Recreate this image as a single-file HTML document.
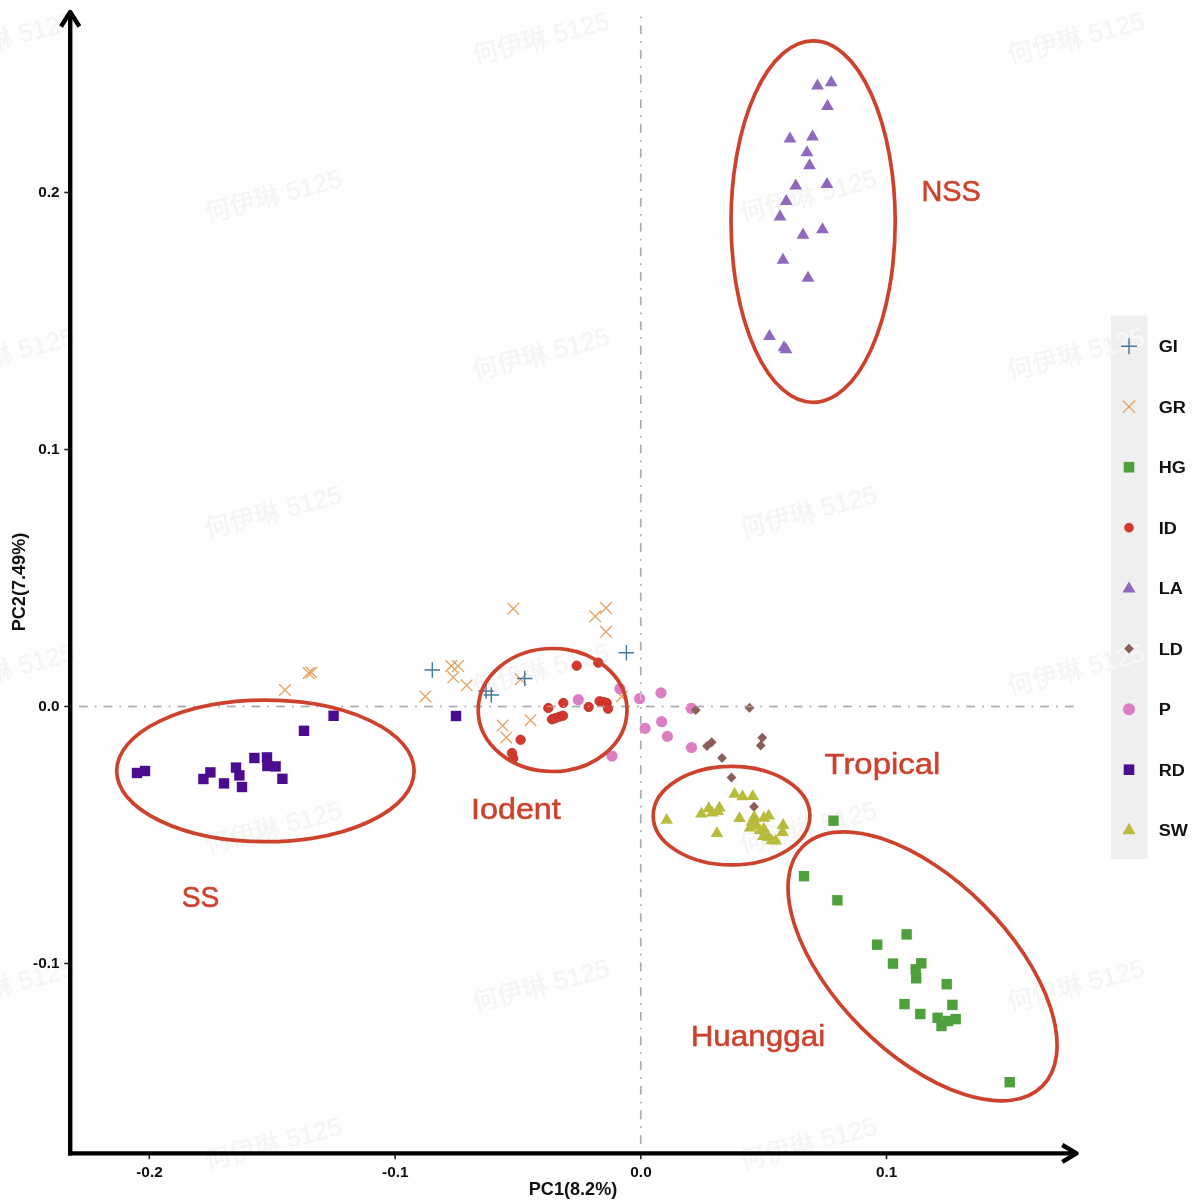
<!DOCTYPE html>
<html lang="zh"><head><meta charset="utf-8"><title>PCA plot</title>
<style>
html,body{margin:0;padding:0;background:#fefefe;}
body{width:1200px;height:1200px;overflow:hidden;font-family:"Liberation Sans","Noto Sans CJK SC",sans-serif;}
svg{display:block;position:absolute;left:0;top:0;}
.wm{font-family:"Liberation Sans","Noto Sans CJK SC",sans-serif;font-size:25.5px;fill:#000;stroke:#000;stroke-width:0.5;opacity:0.042;}
.wmw{font-family:"Liberation Sans","Noto Sans CJK SC",sans-serif;font-size:25.5px;fill:#fff;stroke:#fff;stroke-width:0.5;opacity:0.55;}
.tick{font-family:"Liberation Sans",sans-serif;font-weight:bold;font-size:14.5px;fill:#111;}
.axt{font-family:"Liberation Sans",sans-serif;font-weight:bold;font-size:17.5px;fill:#111;}
.leg{font-family:"Liberation Sans",sans-serif;font-weight:bold;font-size:17px;fill:#111;}
.grp{font-family:"Liberation Sans",sans-serif;font-size:29.5px;fill:#cd422d;stroke:#cd422d;stroke-width:0.55;}
</style></head><body>
<svg width="1200" height="1200" viewBox="0 0 1200 1200">
<rect x="0" y="0" width="1200" height="1200" fill="#fefefe"/>
<g class="wm" text-anchor="middle">
<text transform="translate(5.8 37.9) rotate(-14.6)" x="0" y="9">何伊琳 5125</text>
<text transform="translate(540.85 37.9) rotate(-14.6)" x="0" y="9">何伊琳 5125</text>
<text transform="translate(1075.9 37.9) rotate(-14.6)" x="0" y="9">何伊琳 5125</text>
<text transform="translate(273.3 195.8) rotate(-14.6)" x="0" y="9">何伊琳 5125</text>
<text transform="translate(808.35 195.8) rotate(-14.6)" x="0" y="9">何伊琳 5125</text>
<text transform="translate(5.8 353.7) rotate(-14.6)" x="0" y="9">何伊琳 5125</text>
<text transform="translate(540.85 353.7) rotate(-14.6)" x="0" y="9">何伊琳 5125</text>
<text transform="translate(1075.9 353.7) rotate(-14.6)" x="0" y="9">何伊琳 5125</text>
<text transform="translate(273.3 511.6) rotate(-14.6)" x="0" y="9">何伊琳 5125</text>
<text transform="translate(808.35 511.6) rotate(-14.6)" x="0" y="9">何伊琳 5125</text>
<text transform="translate(5.8 669.5) rotate(-14.6)" x="0" y="9">何伊琳 5125</text>
<text transform="translate(540.85 669.5) rotate(-14.6)" x="0" y="9">何伊琳 5125</text>
<text transform="translate(1075.9 669.5) rotate(-14.6)" x="0" y="9">何伊琳 5125</text>
<text transform="translate(273.3 827.4) rotate(-14.6)" x="0" y="9">何伊琳 5125</text>
<text transform="translate(808.35 827.4) rotate(-14.6)" x="0" y="9">何伊琳 5125</text>
<text transform="translate(5.8 985.3) rotate(-14.6)" x="0" y="9">何伊琳 5125</text>
<text transform="translate(540.85 985.3) rotate(-14.6)" x="0" y="9">何伊琳 5125</text>
<text transform="translate(1075.9 985.3) rotate(-14.6)" x="0" y="9">何伊琳 5125</text>
<text transform="translate(273.3 1143.2) rotate(-14.6)" x="0" y="9">何伊琳 5125</text>
<text transform="translate(808.35 1143.2) rotate(-14.6)" x="0" y="9">何伊琳 5125</text>
</g>
<clipPath id="strip"><rect x="1111" y="315.5" width="36.3" height="543.5"/></clipPath>
<rect x="1111" y="315.5" width="36.3" height="543.5" fill="#efefef"/>
<g class="wmw" text-anchor="middle" clip-path="url(#strip)">
<text transform="translate(1075.9 353.7) rotate(-14.6)" x="0" y="9">何伊琳 5125</text>
<text transform="translate(1075.9 669.5) rotate(-14.6)" x="0" y="9">何伊琳 5125</text>
</g>
<g stroke="#767676" stroke-width="1.5" fill="none">
<path d="M79 706.5H1075" stroke-dasharray="8.6 7.2 1.65 7.2"/>
<path d="M640.7 16.7V1151" stroke-dasharray="1.6 7.2 8.6 7.26"/>
</g>
<g fill="#9068be"><polygon points="817.5,78.5 811.1,89.5 823.9,89.5"/><polygon points="831.25,75.25 824.85,86.25 837.65,86.25"/><polygon points="827.5,99 821.1,110 833.9,110"/><polygon points="790,131.5 783.6,142.5 796.4,142.5"/><polygon points="812.5,129.5 806.1,140.5 818.9,140.5"/><polygon points="807,145.25 800.6,156.25 813.4,156.25"/><polygon points="809.5,158.25 803.1,169.25 815.9,169.25"/><polygon points="795.75,178.5 789.35,189.5 802.15,189.5"/><polygon points="827,177 820.6,188 833.4,188"/><polygon points="786.25,194 779.85,205 792.65,205"/><polygon points="780,209.5 773.6,220.5 786.4,220.5"/><polygon points="822.5,222.25 816.1,233.25 828.9,233.25"/><polygon points="803,227.75 796.6,238.75 809.4,238.75"/><polygon points="783,252.75 776.6,263.75 789.4,263.75"/><polygon points="808,270.75 801.6,281.75 814.4,281.75"/><polygon points="769.5,329 763.1,340 775.9,340"/><polygon points="784,340.3 777.6,351.3 790.4,351.3"/><polygon points="786,342.3 779.6,353.3 792.4,353.3"/></g>
<g fill="none" stroke="#e3a05f" stroke-width="1.3"><path d="M507.5 602.9L519.1 614.5M507.5 614.5L519.1 602.9"/><path d="M445.5 660.2L457.1 671.8M445.5 671.8L457.1 660.2"/><path d="M452.2 660.2L463.8 671.8M452.2 671.8L463.8 660.2"/><path d="M447.5 671.5L459.1 683.1M447.5 683.1L459.1 671.5"/><path d="M460.9 679.5L472.5 691.1M460.9 691.1L472.5 679.5"/><path d="M419.5 690.6L431.1 702.2M419.5 702.2L431.1 690.6"/><path d="M514.9 673.5L526.5 685.1M514.9 685.1L526.5 673.5"/><path d="M496.8 719.8L508.4 731.4M496.8 731.4L508.4 719.8"/><path d="M524.7 714.4L536.3 726M524.7 726L536.3 714.4"/><path d="M500.5 731.6L512.1 743.2M500.5 743.2L512.1 731.6"/><path d="M600.2 602.2L611.8 613.8M600.2 613.8L611.8 602.2"/><path d="M589.5 610.5L601.1 622.1M589.5 622.1L601.1 610.5"/><path d="M600.2 626L611.8 637.6M600.2 637.6L611.8 626"/><path d="M615.9 690.7L627.5 702.3M615.9 702.3L627.5 690.7"/><path d="M279.2 684.2L290.8 695.8M279.2 695.8L290.8 684.2"/><path d="M302.9 667.2L314.5 678.8M302.9 678.8L314.5 667.2"/><path d="M305.7 666.7L317.3 678.3M305.7 678.3L317.3 666.7"/></g>
<g fill="#dc7ec4"><circle cx="578.3" cy="699.7" r="5.6"/><circle cx="620" cy="688.7" r="5.6"/><circle cx="639.6" cy="698.7" r="5.6"/><circle cx="661" cy="692.9" r="5.6"/><circle cx="645.1" cy="728.4" r="5.6"/><circle cx="661.7" cy="721.7" r="5.6"/><circle cx="667.4" cy="736.4" r="5.6"/><circle cx="612" cy="756" r="5.6"/><circle cx="691.2" cy="708.3" r="5.6"/><circle cx="691.5" cy="747.5" r="5.6"/></g>
<g fill="none" stroke="#44789f" stroke-width="1.4"><path d="M424.6 670H440M432.3 662.3V677.7"/><path d="M517 678.5H532.4M524.7 670.8V686.2"/><path d="M478.3 691H493.7M486 683.3V698.7"/><path d="M483.6 695H499M491.3 687.3V702.7"/><path d="M618.7 652.8H634.1M626.4 645.1V660.5"/></g>
<g fill="#d4382c" stroke="#b92f27" stroke-width="0.8"><circle cx="576.7" cy="665.7" r="4.7"/><circle cx="598.3" cy="662.7" r="4.7"/><circle cx="548.3" cy="708" r="4.7"/><circle cx="563.3" cy="703" r="4.7"/><circle cx="552" cy="719.3" r="4.7"/><circle cx="555" cy="718.3" r="4.7"/><circle cx="559.3" cy="716.7" r="4.7"/><circle cx="563" cy="715.7" r="4.7"/><circle cx="588.7" cy="707" r="4.7"/><circle cx="599.6" cy="701.3" r="4.7"/><circle cx="603.3" cy="702" r="4.7"/><circle cx="606.7" cy="703" r="4.7"/><circle cx="608" cy="708.7" r="4.7"/><circle cx="520.6" cy="739.8" r="4.7"/><circle cx="512" cy="753" r="4.7"/><circle cx="513.3" cy="758.3" r="4.7"/></g>
<g fill="#8b5e57"><polygon points="695.8,705.1 700.7,710 695.8,714.9 690.9,710"/><polygon points="749.5,702.85 754.4,707.75 749.5,712.65 744.6,707.75"/><polygon points="762.25,732.85 767.15,737.75 762.25,742.65 757.35,737.75"/><polygon points="760.75,740.6 765.65,745.5 760.75,750.4 755.85,745.5"/><polygon points="711.7,737.35 716.6,742.25 711.7,747.15 706.8,742.25"/><polygon points="707,741.1 711.9,746 707,750.9 702.1,746"/><polygon points="722,753.1 726.9,758 722,762.9 717.1,758"/><polygon points="731.5,772.6 736.4,777.5 731.5,782.4 726.6,777.5"/><polygon points="754,801.85 758.9,806.75 754,811.65 749.1,806.75"/></g>
<g fill="#b8bb3c"><polygon points="666.7,813 660.4,823.8 673,823.8"/><polygon points="734.55,787 728.25,797.8 740.85,797.8"/><polygon points="742.55,789.4 736.25,800.2 748.85,800.2"/><polygon points="752.8,789.2 746.5,800 759.1,800"/><polygon points="701.4,806.75 695.1,817.55 707.7,817.55"/><polygon points="708.75,801.25 702.45,812.05 715.05,812.05"/><polygon points="712.2,805.7 705.9,816.5 718.5,816.5"/><polygon points="719.5,800.75 713.2,811.55 725.8,811.55"/><polygon points="717.7,804.2 711.4,815 724,815"/><polygon points="739.5,811.25 733.2,822.05 745.8,822.05"/><polygon points="716.9,826.25 710.6,837.05 723.2,837.05"/><polygon points="754.25,810 747.95,820.8 760.55,820.8"/><polygon points="752,815 745.7,825.8 758.3,825.8"/><polygon points="763.85,810.9 757.55,821.7 770.15,821.7"/><polygon points="768.7,808.7 762.4,819.5 775,819.5"/><polygon points="750.05,820.7 743.75,831.5 756.35,831.5"/><polygon points="756.7,818.4 750.4,829.2 763,829.2"/><polygon points="760,823.4 753.7,834.2 766.3,834.2"/><polygon points="763.85,822 757.55,832.8 770.15,832.8"/><polygon points="763.3,829.2 757,840 769.6,840"/><polygon points="768.3,830.1 762,840.9 774.6,840.9"/><polygon points="783.1,818.1 776.8,828.9 789.4,828.9"/><polygon points="782.6,825.3 776.3,836.1 788.9,836.1"/><polygon points="775.75,833.7 769.45,844.5 782.05,844.5"/><polygon points="771.7,833.4 765.4,844.2 778,844.2"/></g>
<g fill="#4ea03c"><rect x="828.3" y="815.5" width="10.4" height="10.4"/><rect x="798.8" y="871" width="10.4" height="10.4"/><rect x="832.2" y="895.1" width="10.4" height="10.4"/><rect x="901.4" y="929.2" width="10.4" height="10.4"/><rect x="872" y="939.5" width="10.4" height="10.4"/><rect x="887.8" y="958.4" width="10.4" height="10.4"/><rect x="916.1" y="958.1" width="10.4" height="10.4"/><rect x="910.5" y="964.1" width="10.4" height="10.4"/><rect x="911" y="973.1" width="10.4" height="10.4"/><rect x="941.5" y="979" width="10.4" height="10.4"/><rect x="899.3" y="998.9" width="10.4" height="10.4"/><rect x="947.2" y="999.7" width="10.4" height="10.4"/><rect x="915.1" y="1008.8" width="10.4" height="10.4"/><rect x="932.4" y="1012.6" width="10.4" height="10.4"/><rect x="950.5" y="1013.9" width="10.4" height="10.4"/><rect x="942.8" y="1015.8" width="10.4" height="10.4"/><rect x="936.3" y="1020.8" width="10.4" height="10.4"/><rect x="1004.5" y="1077" width="10.4" height="10.4"/></g>
<g fill="#4a0d90"><rect x="131.8" y="767.8" width="10.4" height="10.4"/><rect x="139.8" y="765.8" width="10.4" height="10.4"/><rect x="198.2" y="773.8" width="10.4" height="10.4"/><rect x="205.2" y="767.2" width="10.4" height="10.4"/><rect x="218.8" y="778.2" width="10.4" height="10.4"/><rect x="230.8" y="762.4" width="10.4" height="10.4"/><rect x="234.2" y="770.2" width="10.4" height="10.4"/><rect x="236.8" y="781.8" width="10.4" height="10.4"/><rect x="249.2" y="752.8" width="10.4" height="10.4"/><rect x="261.8" y="752.2" width="10.4" height="10.4"/><rect x="262.2" y="760.8" width="10.4" height="10.4"/><rect x="270.4" y="761.2" width="10.4" height="10.4"/><rect x="277.2" y="773.6" width="10.4" height="10.4"/><rect x="298.8" y="725.6" width="10.4" height="10.4"/><rect x="328.4" y="710.6" width="10.4" height="10.4"/><rect x="450.8" y="710.8" width="10.4" height="10.4"/></g>
<g stroke="#ffffff" stroke-opacity="0.4" stroke-width="1.5" fill="none">
<path d="M79 706.5H1075" stroke-dasharray="8.6 7.2 1.65 7.2"/>
<path d="M640.7 16.7V1151" stroke-dasharray="1.6 7.2 8.6 7.26"/>
</g>
<g fill="none" stroke="#cd422d" stroke-width="3.7">
<ellipse cx="813.1" cy="221.6" rx="82.1" ry="180.8"/>
<ellipse cx="0" cy="0" rx="74.4" ry="61.5" transform="translate(552.6 710) rotate(0)"/>
<ellipse cx="731.55" cy="815.65" rx="78.35" ry="49.25"/>
<ellipse cx="265.4" cy="770.9" rx="148.7" ry="70.8"/>
<ellipse cx="0" cy="0" rx="169.4" ry="86.6" transform="translate(922.55 966.35) rotate(45)"/>
</g>
<text class="grp" x="921.5" y="200.9" textLength="59.4" lengthAdjust="spacingAndGlyphs">NSS</text>
<text class="grp" x="471" y="819" textLength="89.8" lengthAdjust="spacingAndGlyphs">Iodent</text>
<text class="grp" x="824.6" y="774.3" textLength="115.6" lengthAdjust="spacingAndGlyphs">Tropical</text>
<text class="grp" x="181.7" y="907.4" textLength="37.6" lengthAdjust="spacingAndGlyphs">SS</text>
<text class="grp" x="690.7" y="1046" textLength="134.5" lengthAdjust="spacingAndGlyphs">Huanggai</text>
<g stroke="#000" fill="none" stroke-width="4.4">
<path d="M70.2 1155.6V12"/>
<path d="M68 1153.4H1076.5"/>
</g>
<g stroke="#000" fill="none" stroke-width="4.4" stroke-linecap="butt" stroke-linejoin="round">
<path d="M61 26.5L70.2 12L79.4 26.5"/>
<path d="M1062.3 1145L1076.5 1153.4L1062.3 1161.8"/>
</g>
<g stroke="#222" stroke-width="1.6">
<path d="M149.3 1155V1159.2"/>
<path d="M395.1 1155V1159.2"/>
<path d="M640.8 1155V1159.2"/>
<path d="M886.5 1155V1159.2"/>
<path d="M64.3 192.5H68.5"/>
<path d="M64.3 449.5H68.5"/>
<path d="M64.3 706.5H68.5"/>
<path d="M64.3 963.5H68.5"/>
</g>
<g class="tick" text-anchor="middle">
<text transform="translate(149.5 1177.3) scale(1.06 1)">-0.2</text>
<text transform="translate(395.3 1177.3) scale(1.06 1)">-0.1</text>
<text transform="translate(641 1177.3) scale(1.06 1)">0.0</text>
<text transform="translate(886.7 1177.3) scale(1.06 1)">0.1</text>
</g>
<g class="tick" text-anchor="end">
<text transform="translate(59.6 197.2) scale(1.06 1)">0.2</text>
<text transform="translate(59.6 454.2) scale(1.06 1)">0.1</text>
<text transform="translate(59.6 711.2) scale(1.06 1)">0.0</text>
<text transform="translate(59.6 968.2) scale(1.06 1)">-0.1</text>
</g>
<text class="axt" text-anchor="middle" transform="translate(573 1195.2) scale(1.035 1)">PC1(8.2%)</text>
<text class="axt" text-anchor="middle" transform="translate(24.6 582) rotate(-90) scale(1.035 1)">PC2(7.49%)</text>
<g fill="none" stroke="#44789f" stroke-width="1.4"><path d="M1121 346.2H1137M1129 338.2V354.2"/></g>
<g fill="none" stroke="#e3a05f" stroke-width="1.3"><path d="M1122.8 400.5L1135.2 412.9M1122.8 412.9L1135.2 400.5"/></g>
<g fill="#4ea03c"><rect x="1123.7" y="461.9" width="10.6" height="10.6"/></g>
<g fill="#d4382c" stroke="#b92f27" stroke-width="0.8"><circle cx="1129" cy="527.7" r="4.4"/></g>
<g fill="#9068be"><polygon points="1129,581.4 1122.5,592.6 1135.5,592.6"/></g>
<g fill="#8b5e57"><polygon points="1129,643.8 1133.9,648.7 1129,653.6 1124.1,648.7"/></g>
<g fill="#dc7ec4"><circle cx="1129" cy="709.2" r="6"/></g>
<g fill="#4a0d90"><rect x="1123.7" y="764.4" width="10.6" height="10.6"/></g>
<g fill="#b8bb3c"><polygon points="1129,822.85 1122.4,834.35 1135.6,834.35"/></g>
<g class="leg">
<text transform="translate(1158.7 352.1) scale(1.067 1)">GI</text>
<text transform="translate(1158.7 412.6) scale(1.067 1)">GR</text>
<text transform="translate(1158.7 473.1) scale(1.067 1)">HG</text>
<text transform="translate(1158.7 533.6) scale(1.067 1)">ID</text>
<text transform="translate(1158.7 594.1) scale(1.067 1)">LA</text>
<text transform="translate(1158.7 654.6) scale(1.067 1)">LD</text>
<text transform="translate(1158.7 715.1) scale(1.067 1)">P</text>
<text transform="translate(1158.7 775.6) scale(1.067 1)">RD</text>
<text transform="translate(1158.7 836.1) scale(1.067 1)">SW</text>
</g>
</svg>
</body></html>
